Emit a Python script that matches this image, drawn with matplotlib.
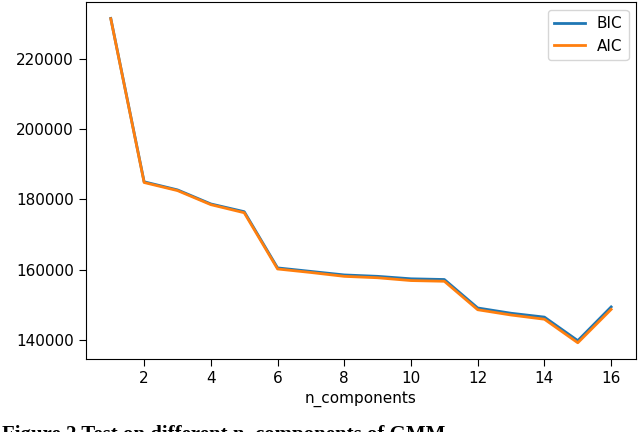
import matplotlib
matplotlib.use("Agg")
import matplotlib.pyplot as plt

n_components = list(range(1, 17))
bic = [231500, 185000, 182700, 178700, 176500, 160500, 159500, 158500, 158100, 157400,
       157200, 149100, 147600, 146500, 139800, 149400]
aic = [231400, 184800, 182500, 178500, 176200, 160200, 159200, 158100, 157700, 156900,
       156700, 148600, 147100, 145900, 139200, 148700]

fig = plt.figure(figsize=(6.4, 4.32), dpi=100)
ax = fig.add_axes([0.134, 0.169, 0.860, 0.826])
ax.plot(n_components, bic, color="#1f77b4", linewidth=2.0, label="BIC")
ax.plot(n_components, aic, color="#ff7f0e", linewidth=2.0, label="AIC")
ax.set_xticks([2, 4, 6, 8, 10, 12, 14, 16])
ax.set_yticks([140000, 160000, 180000, 200000, 220000])
ax.tick_params(labelsize=11, length=5)
ax.set_xlabel("n_components", fontsize=11)
ax.legend(loc="upper right", fontsize=11)

fig.text(0.003, 0.017, "Figure 2 Test on different n_components of GMM",
         fontsize=15, fontweight="bold", family="Liberation Serif", va="top", ha="left")

fig.savefig("out.png", dpi=100)
